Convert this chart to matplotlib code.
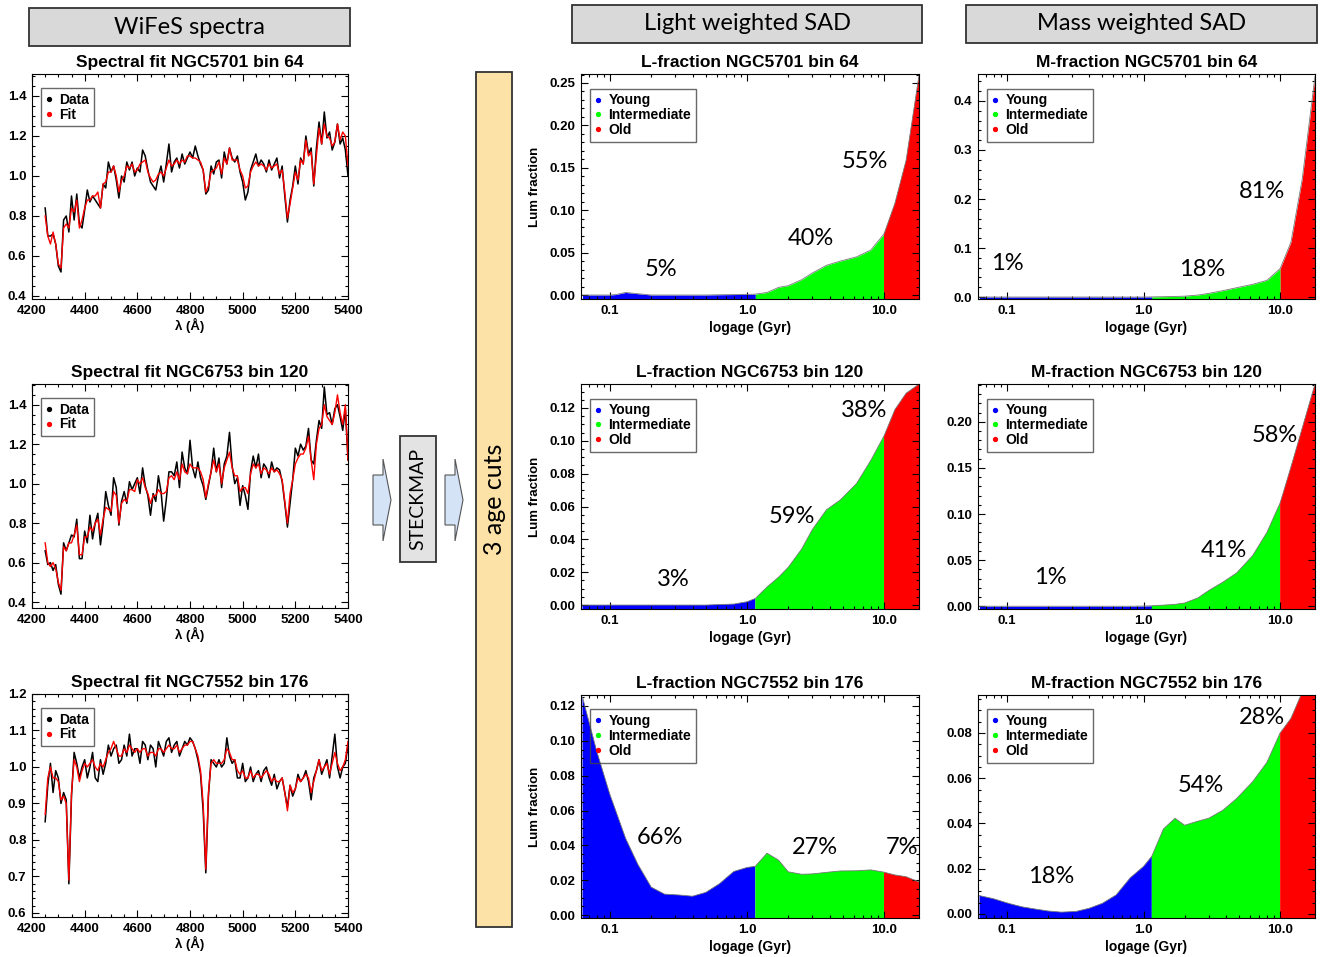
import numpy as np
import matplotlib
matplotlib.use('Agg')
import matplotlib.pyplot as plt
from matplotlib.patches import Rectangle, Polygon
from matplotlib.lines import Line2D
from matplotlib.ticker import (MultipleLocator, AutoMinorLocator, FormatStrFormatter,
                               FixedLocator, FixedFormatter, LogLocator, NullFormatter)

plt.rcParams['font.family'] = ['Liberation Sans', 'DejaVu Sans']
plt.rcParams['font.weight'] = 'bold'

W, H = 1325, 957

# ---- espectros (lambda em Angstrom, passo de 10) ----
wave = np.arange(4250, 5401, 10)

flux_5701 = [0.84, 0.70, 0.70, 0.71, 0.66, 0.55, 0.52, 0.78, 0.80, 0.72,
             0.90, 0.78, 0.91, 0.76, 0.74, 0.83, 0.93, 0.87, 0.90, 0.88,
             0.86, 0.84, 0.96, 0.94, 1.07, 1.02, 1.05, 0.98, 0.89, 1.00,
             0.97, 1.07, 1.03, 1.07, 1.00, 1.04, 1.02, 1.13, 1.10, 1.03,
             0.97, 0.95, 0.93, 1.00, 1.05, 0.97, 1.06, 1.16, 1.02, 1.07,
             1.09, 1.04, 1.11, 1.06, 1.09, 1.12, 1.09, 1.15, 1.10, 1.06,
             1.03, 0.91, 0.93, 1.05, 1.01, 1.07, 1.08, 0.99, 1.12, 1.06,
             1.14, 1.09, 1.07, 1.10, 1.02, 0.97, 0.88, 0.92, 1.03, 1.07,
             1.11, 1.05, 1.08, 1.06, 1.02, 1.08, 1.03, 1.06, 1.09, 0.99,
             1.05, 0.90, 0.77, 0.88, 0.95, 1.05, 0.96, 1.09, 1.06, 1.20,
             1.11, 1.14, 0.95, 1.14, 1.27, 1.16, 1.32, 1.19, 1.22, 1.13,
             1.17, 1.26, 1.16, 1.19, 1.13, 1.00]
fit_5701 = [0.80, 0.70, 0.66, 0.72, 0.66, 0.56, 0.54, 0.74, 0.76, 0.74,
            0.84, 0.82, 0.88, 0.74, 0.78, 0.84, 0.88, 0.88, 0.90, 0.90,
            0.92, 0.84, 0.96, 0.97, 1.02, 1.02, 1.05, 1.00, 0.92, 0.98,
            1.00, 1.05, 1.04, 1.06, 1.02, 1.03, 1.06, 1.07, 1.08, 1.02,
            0.99, 0.97, 0.98, 1.01, 1.02, 1.00, 1.04, 1.08, 1.05, 1.06,
            1.08, 1.06, 1.08, 1.07, 1.10, 1.10, 1.09, 1.09, 1.08, 1.07,
            1.03, 0.92, 0.95, 1.02, 1.03, 1.04, 1.07, 1.01, 1.09, 1.06,
            1.14, 1.08, 1.08, 1.08, 1.03, 1.00, 0.94, 0.95, 1.02, 1.05,
            1.07, 1.05, 1.06, 1.05, 1.03, 1.06, 1.04, 1.05, 1.06, 1.01,
            1.03, 0.92, 0.79, 0.86, 0.94, 1.02, 0.98, 1.08, 1.06, 1.18,
            1.10, 1.12, 0.96, 1.10, 1.24, 1.16, 1.26, 1.20, 1.19, 1.15,
            1.17, 1.26, 1.18, 1.22, 1.20, 1.05]

flux_6753 = [0.66, 0.59, 0.60, 0.56, 0.59, 0.49, 0.44, 0.70, 0.66, 0.70,
             0.74, 0.73, 0.82, 0.62, 0.62, 0.76, 0.70, 0.84, 0.72, 0.80,
             0.85, 0.69, 0.80, 0.96, 0.89, 0.84, 1.03, 0.98, 0.79, 0.91,
             0.96, 0.90, 1.01, 0.97, 1.00, 1.03, 0.95, 1.08, 0.99, 0.94,
             0.84, 0.95, 0.91, 1.04, 0.96, 0.81, 0.92, 1.06, 1.06, 1.04,
             1.11, 0.98, 1.16, 1.08, 1.05, 1.22, 1.08, 1.03, 1.11, 1.03,
             0.99, 0.92, 0.99, 1.06, 1.18, 1.06, 1.13, 0.98, 1.10, 1.14,
             1.26, 1.09, 1.00, 1.03, 0.89, 0.99, 0.94, 0.87, 1.06, 1.14,
             1.08, 1.15, 1.03, 1.10, 1.08, 1.03, 1.11, 1.06, 1.08, 1.07,
             1.01, 0.90, 0.78, 0.90, 1.02, 1.18, 1.14, 1.20, 1.17, 1.19,
             1.28, 1.12, 1.10, 1.22, 1.32, 1.28, 1.49, 1.35, 1.36, 1.30,
             1.38, 1.40, 1.34, 1.27, 1.38, 1.12]
fit_6753 = [0.70, 0.60, 0.58, 0.60, 0.57, 0.50, 0.46, 0.68, 0.66, 0.70,
            0.70, 0.74, 0.79, 0.64, 0.64, 0.73, 0.73, 0.78, 0.76, 0.80,
            0.82, 0.74, 0.82, 0.88, 0.87, 0.86, 0.96, 0.94, 0.80, 0.90,
            0.92, 0.91, 0.97, 0.97, 0.96, 1.02, 1.00, 1.03, 0.98, 0.95,
            0.90, 0.94, 0.94, 0.97, 0.95, 0.95, 0.96, 1.03, 1.04, 1.02,
            1.06, 1.02, 1.10, 1.06, 1.05, 1.10, 1.08, 1.08, 1.08, 1.06,
            1.02, 0.93, 1.00, 1.06, 1.12, 1.06, 1.10, 1.00, 1.08, 1.12,
            1.16, 1.08, 1.04, 1.04, 0.96, 0.98, 0.98, 0.95, 1.05, 1.10,
            1.08, 1.10, 1.05, 1.08, 1.07, 1.05, 1.08, 1.06, 1.07, 1.05,
            1.02, 0.91, 0.80, 0.95, 1.02, 1.10, 1.13, 1.15, 1.15, 1.18,
            1.24, 1.12, 1.02, 1.20, 1.28, 1.30, 1.40, 1.34, 1.32, 1.30,
            1.36, 1.45, 1.36, 1.30, 1.40, 1.12]

flux_7552 = [0.85, 0.95, 1.01, 0.93, 0.99, 0.97, 0.90, 0.93, 0.91, 0.68,
             0.92, 1.04, 1.01, 0.97, 1.00, 1.02, 0.97, 1.00, 1.04, 0.97,
             0.96, 1.02, 0.98, 1.01, 1.06, 1.03, 1.05, 1.06, 1.01, 1.02,
             1.06, 1.03, 1.09, 1.03, 1.05, 1.05, 1.01, 1.07, 1.06, 1.02,
             1.06, 1.05, 1.00, 1.07, 1.05, 1.03, 1.07, 1.08, 1.04, 1.06,
             1.07, 1.03, 1.05, 1.07, 1.06, 1.08, 1.07, 1.05, 1.02, 0.98,
             0.88, 0.71, 0.92, 1.02, 1.01, 1.00, 1.02, 1.00, 1.01, 1.08,
             1.03, 1.01, 1.02, 0.97, 0.97, 1.01, 0.96, 0.97, 1.00, 0.96,
             0.98, 0.99, 0.96, 0.99, 1.00, 0.97, 0.95, 0.98, 0.94, 0.96,
             0.97, 0.93, 0.89, 0.95, 0.92, 0.94, 0.98, 0.96, 0.97, 0.99,
             0.96, 0.91, 0.97, 0.99, 1.02, 0.98, 1.00, 1.02, 0.97, 1.03,
             1.09, 1.00, 0.97, 1.00, 1.01, 1.06]
fit_7552 = [0.87, 0.97, 1.00, 0.97, 0.97, 0.96, 0.91, 0.92, 0.90, 0.69,
            0.93, 1.02, 1.00, 0.96, 0.99, 1.01, 1.00, 1.01, 1.02, 1.00,
            0.99, 1.01, 1.00, 1.02, 1.04, 1.05, 1.07, 1.05, 1.03, 1.03,
            1.05, 1.04, 1.06, 1.05, 1.04, 1.05, 1.04, 1.05, 1.05, 1.03,
            1.04, 1.04, 1.03, 1.05, 1.05, 1.04, 1.05, 1.06, 1.05, 1.05,
            1.06, 1.04, 1.05, 1.06, 1.06, 1.07, 1.07, 1.05, 1.03, 0.99,
            0.90, 0.72, 0.93, 1.01, 1.02, 1.01, 1.01, 1.01, 1.02, 1.05,
            1.04, 1.02, 1.02, 0.99, 0.98, 0.99, 0.97, 0.97, 0.99, 0.97,
            0.98, 0.98, 0.97, 0.98, 0.99, 0.98, 0.96, 0.97, 0.96, 0.96,
            0.97, 0.93, 0.88, 0.95, 0.93, 0.94, 0.97, 0.96, 0.97, 0.98,
            0.97, 0.93, 0.96, 0.99, 1.02, 0.99, 1.00, 1.01, 0.98, 1.01,
            1.04, 1.01, 0.99, 1.00, 1.02, 1.07]

# ---- distribuicoes de idade (Gyr) ----
ages = [0.063, 0.08, 0.1, 0.11, 0.13, 0.16, 0.2, 0.25, 0.32, 0.4, 0.5, 0.63, 0.8, 1.0,
        1.15, 1.4, 1.7, 2.0, 2.5, 3.0, 3.8, 4.8, 6.3, 8.0, 10.0, 12.0, 14.5, 18.0]
young_limit = 1.15
old_limit = 10.0

lum_5701 = [0.0, 0.0, 0.0, 0.0005, 0.003, 0.0015, 0.0, 0.0, 0.0, 0.0, 0.0, 0.0003, 0.0005, 0.0008,
            0.001, 0.003, 0.009, 0.011, 0.018, 0.026, 0.035, 0.040, 0.045, 0.053, 0.072, 0.108, 0.159, 0.259]
lum_6753 = [0.0, 0.0, 0.0, 0.0, 0.0, 0.0, 0.0, 0.0, 0.0, 0.0, 0.0, 0.0003, 0.0006, 0.002,
            0.004, 0.011, 0.017, 0.023, 0.034, 0.046, 0.058, 0.064, 0.074, 0.088, 0.103, 0.119, 0.129, 0.1345]
lum_7552 = [0.125, 0.094, 0.069, 0.060, 0.044, 0.029, 0.016, 0.012, 0.0115, 0.0108, 0.013, 0.018, 0.025, 0.0273,
            0.028, 0.0355, 0.0315, 0.0248, 0.0234, 0.0236, 0.0245, 0.0253, 0.0254, 0.0259, 0.0246, 0.023, 0.022, 0.019]
mass_5701 = [0.0, 0.0, 0.0, 0.0, 0.0, 0.0, 0.0, 0.0, 0.0, 0.0, 0.0, 0.0, 0.0, 0.0,
             0.0003, 0.0007, 0.0012, 0.0018, 0.004, 0.0075, 0.013, 0.019, 0.026, 0.034, 0.058, 0.112, 0.24, 0.45]
mass_6753 = [0.0, 0.0, 0.0, 0.0, 0.0, 0.0, 0.0, 0.0, 0.0, 0.0, 0.0, 0.0, 0.0, 0.0002,
             0.0005, 0.0012, 0.002, 0.0035, 0.009, 0.017, 0.026, 0.036, 0.055, 0.080, 0.112, 0.151, 0.193, 0.241]
mass_7552 = [0.0081, 0.0067, 0.0049, 0.0042, 0.0031, 0.0022, 0.0013, 0.0008, 0.0011, 0.0025, 0.0047, 0.0084, 0.016, 0.021,
             0.0255, 0.0376, 0.0423, 0.0392, 0.041, 0.0423, 0.0458, 0.051, 0.0585, 0.067, 0.080, 0.0865, 0.098, 0.0968]

pct_lum_5701 = ['5%', '40%', '55%']
pct_lum_6753 = ['3%', '59%', '38%']
pct_lum_7552 = ['66%', '27%', '7%']
pct_mass_5701 = ['1%', '18%', '81%']
pct_mass_6753 = ['1%', '41%', '58%']
pct_mass_7552 = ['18%', '54%', '28%']

fig = plt.figure(figsize=(W / 100, H / 100), dpi=100)


def caixa(x0, y0, x1, y1):
    # pixel box -> figure rect
    return [x0 / W, 1 - y1 / H, (x1 - x0) / W, (y1 - y0) / H]


def estilo_eixo(ax):
    ax.tick_params(which='both', direction='in', top=True, right=True, width=0.8, labelsize=9.5, pad=4)
    ax.tick_params(which='major', length=5)
    ax.tick_params(which='minor', length=2.5)
    for s in ax.spines.values():
        s.set_linewidth(0.8)
    for t in ax.get_xticklabels() + ax.get_yticklabels():
        t.set_fontweight('bold')


def legenda(ax, nomes, cores, ancora):
    alcas = [Line2D([], [], ls='none', marker='o', ms=2.8, color=c) for c in cores]
    leg = ax.legend(alcas, nomes, loc='upper left', bbox_to_anchor=ancora, borderaxespad=0,
                    fancybox=False, handlelength=0.5, handletextpad=0.5, labelspacing=0.05,
                    borderpad=0.35, prop={'weight': 'bold', 'size': 10})
    leg.get_frame().set_edgecolor('#444444')
    leg.get_frame().set_facecolor('none')
    leg.get_frame().set_linewidth(1.0)


def tracar_espectro(rect, titulo, fluxo, ajuste, ylim, ymajor):
    ax = fig.add_axes(rect)
    ax.plot(wave, fluxo, color='black', lw=1.1)
    ax.plot(wave, ajuste, color='red', lw=1.0)
    ax.set_xlim(4200, 5400)
    ax.set_ylim(*ylim)
    ax.xaxis.set_major_locator(MultipleLocator(200))
    ax.xaxis.set_minor_locator(AutoMinorLocator(4))
    ax.yaxis.set_major_locator(MultipleLocator(ymajor))
    ax.yaxis.set_minor_locator(AutoMinorLocator())
    ax.yaxis.set_major_formatter(FormatStrFormatter('%.1f'))
    estilo_eixo(ax)
    ax.set_title(titulo, fontsize=12.5, fontweight='bold', pad=5)
    ax.set_xlabel('λ (Å)', fontsize=9.5, fontweight='bold', labelpad=1)
    legenda(ax, ['Data', 'Fit'], ['black', 'red'], (0.028, 0.938))


def tracar_sad(rect, titulo, valores, ylim, ymajor, fmt, rotulos, posicoes, ylabel=None):
    ax = fig.add_axes(rect)
    ax.set_xscale('log')
    idades = np.array(ages)
    v = np.array(valores)
    partes = [('blue', idades <= young_limit),
              ('lime', (idades >= young_limit) & (idades <= old_limit)),
              ('red', idades >= old_limit)]
    for cor, m in partes:
        ax.fill_between(idades[m], v[m], -1, color=cor, lw=0)
    ax.plot(idades, v, color='#777777', lw=0.6)
    ax.set_xlim(0.0614, 18.0)
    ax.set_ylim(*ylim)
    ax.xaxis.set_major_locator(FixedLocator([0.1, 1.0, 10.0]))
    ax.xaxis.set_major_formatter(FixedFormatter(['0.1', '1.0', '10.0']))
    ax.xaxis.set_minor_locator(LogLocator(base=10, subs=np.arange(2, 10)))
    ax.xaxis.set_minor_formatter(NullFormatter())
    ax.yaxis.set_major_locator(MultipleLocator(ymajor))
    ax.yaxis.set_minor_locator(AutoMinorLocator())
    ax.yaxis.set_major_formatter(FormatStrFormatter(fmt))
    estilo_eixo(ax)
    ax.set_title(titulo, fontsize=12.5, fontweight='bold', pad=5)
    ax.set_xlabel('logage (Gyr)', fontsize=10, fontweight='bold', labelpad=3)
    if ylabel:
        ax.set_ylabel(ylabel, fontsize=9.5, fontweight='bold', labelpad=6)
    legenda(ax, ['Young', 'Intermediate', 'Old'], ['blue', 'lime', 'red'], (0.026, 0.935))
    for texto, (fx, fy) in zip(rotulos, posicoes):
        ax.text(fx, fy, texto, transform=ax.transAxes, ha='center', va='center',
                fontsize=17, family='Lato', fontweight='normal')


tracar_espectro(caixa(32, 74, 348, 299), 'Spectral fit NGC5701 bin 64', flux_5701, fit_5701, (0.385, 1.51), 0.2)
tracar_espectro(caixa(32, 384, 348, 608), 'Spectral fit NGC6753 bin 120', flux_6753, fit_6753, (0.37, 1.505), 0.2)
tracar_espectro(caixa(32, 694, 348, 917), 'Spectral fit NGC7552 bin 176', flux_7552, fit_7552, (0.589, 1.2), 0.1)

tracar_sad(caixa(581, 74, 919, 299), 'L-fraction NGC5701 bin 64', lum_5701, (-0.0047, 0.2606), 0.05, '%.2f',
           pct_lum_5701, [(0.237, 0.129), (0.680, 0.271), (0.840, 0.609)], 'Lum fraction')
tracar_sad(caixa(581, 384, 919, 609), 'L-fraction NGC6753 bin 120', lum_6753, (-0.0024, 0.1346), 0.02, '%.2f',
           pct_lum_6753, [(0.272, 0.133), (0.624, 0.413), (0.837, 0.884)], 'Lum fraction')
tracar_sad(caixa(581, 695, 919, 918), 'L-fraction NGC7552 bin 176', lum_7552, (-0.0017, 0.1263), 0.02, '%.2f',
           pct_lum_7552, [(0.234, 0.359), (0.692, 0.318), (0.950, 0.318)], 'Lum fraction')

tracar_sad(caixa(978, 74, 1315, 299), 'M-fraction NGC5701 bin 64', mass_5701, (-0.004, 0.455), 0.1, '%.1f',
           pct_mass_5701, [(0.086, 0.156), (0.665, 0.133), (0.843, 0.480)])
tracar_sad(caixa(978, 384, 1315, 609), 'M-fraction NGC6753 bin 120', mass_6753, (-0.003, 0.241), 0.05, '%.2f',
           pct_mass_6753, [(0.214, 0.138), (0.730, 0.262), (0.881, 0.769)])
tracar_sad(caixa(978, 695, 1315, 918), 'M-fraction NGC7552 bin 176', mass_7552, (-0.0018, 0.0968), 0.02, '%.2f',
           pct_mass_7552, [(0.217, 0.188), (0.662, 0.592), (0.843, 0.897)])


# ---- caixas de cabecalho e diagrama ----
def retangulo(x0, y0, x1, y1, cor):
    r = caixa(x0, y0, x1, y1)
    fig.add_artist(Rectangle((r[0], r[1]), r[2], r[3], transform=fig.transFigure,
                             facecolor=cor, edgecolor='#333333', lw=1.3))
    return (x0 + x1) / 2 / W, 1 - (y0 + y1) / 2 / H


cabecalhos = [((29, 8, 350, 46), 'WiFeS spectra'),
              ((572, 5, 922, 43), 'Light weighted SAD'),
              ((966, 5, 1317, 43), 'Mass weighted SAD')]
for (x0, y0, x1, y1), nome in cabecalhos:
    cx, cy = retangulo(x0, y0, x1, y1, '#d9d9d9')
    fig.text(cx, cy, nome, ha='center', va='center', fontsize=17, family='Lato', fontweight='normal')

cx, cy = retangulo(400, 436, 436, 562, '#e3e3e3')
fig.text(cx, cy, 'STECKMAP', ha='center', va='center', rotation=90, fontsize=14, family='Lato', fontweight='normal')

cx, cy = retangulo(476, 72, 512, 927, '#fde2a8')
fig.text(cx, cy, '3 age cuts', ha='center', va='center', rotation=90, fontsize=18, family='Lato', fontweight='normal')


def seta(x0, x1, x2, yc, haste, cabeca):
    pts = [(x0, yc - haste), (x1, yc - haste), (x1, yc - cabeca), (x2, yc),
           (x1, yc + cabeca), (x1, yc + haste), (x0, yc + haste)]
    pts = [(x / W, 1 - y / H) for x, y in pts]
    fig.add_artist(Polygon(pts, closed=True, transform=fig.transFigure,
                           facecolor='#d5e3f7', edgecolor='#555555', lw=0.8))


seta(373, 383, 391, 500, 25, 41)
seta(445, 455, 463, 500, 25, 41)

fig.savefig('out.png', dpi=100)
